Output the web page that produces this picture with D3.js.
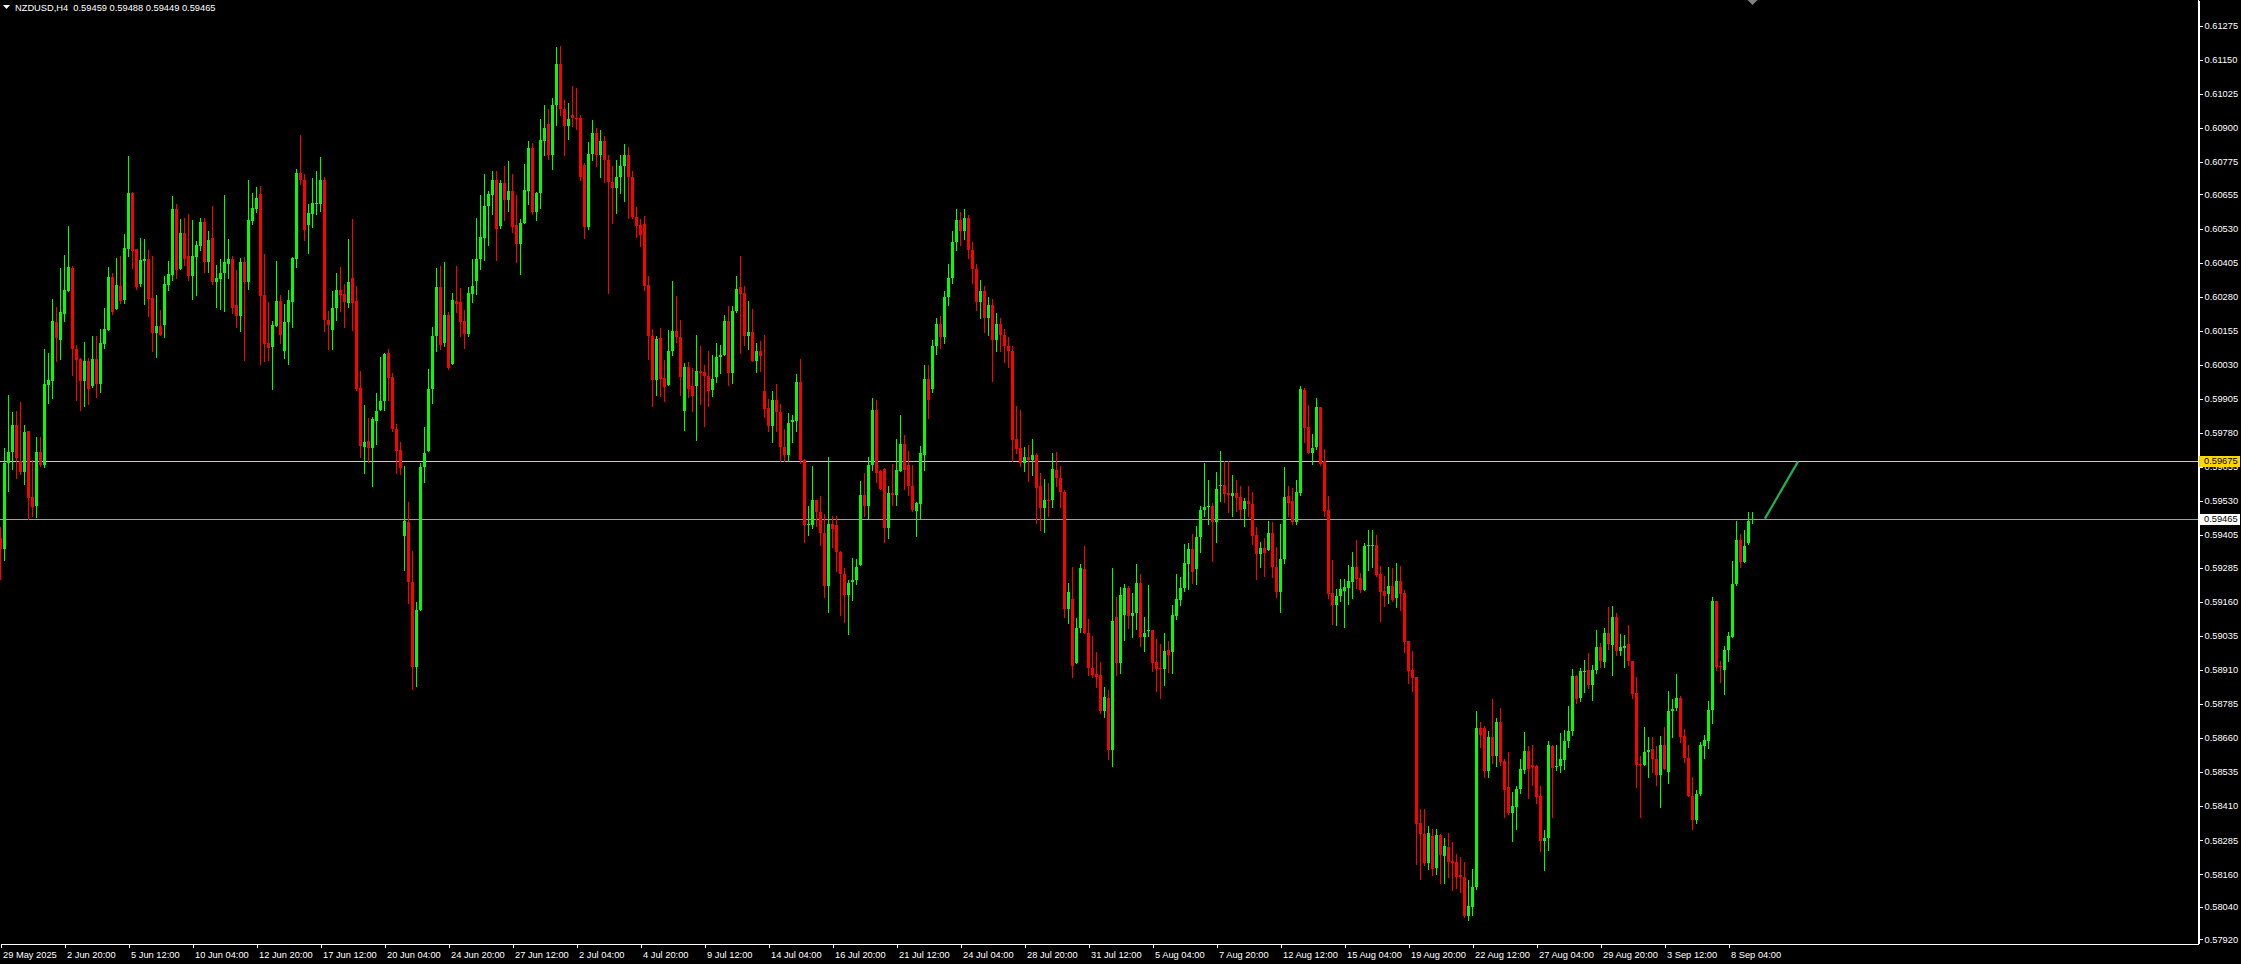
<!DOCTYPE html>
<html><head><meta charset="utf-8">
<script src="https://cdn.jsdelivr.net/npm/d3@7"></script>
<style>
html,body{margin:0;padding:0;background:#000;overflow:hidden}
svg{display:block}
text{font-family:"Liberation Sans",Arial,sans-serif;font-size:9.3px}
</style></head><body>
<svg id="chart" width="2241" height="964"></svg>
<script>
// NZDUSD H4 candles, prices in points (price x 100000)
const symbolName = "NZDUSD,H4";
const lastBarOHLC = ["0.59459", "0.59488", "0.59449", "0.59465"];

const opens = [
59394,59353,59671,59709,59808,59676,59636,59786,59545,59512,
59709,59661,59956,59970,60187,60122,60218,60301,60386,60088,
60051,59969,60043,59952,60051,59958,60106,60157,60353,60235,
60319,60267,60456,60661,60455,60327,60411,60418,60276,60148,
60172,60176,60323,60360,60602,60381,60515,60429,60356,60426,
60466,60554,60407,60496,60334,60345,60367,60400,60418,60250,
60209,60407,60334,60558,60602,60657,60286,60110,60095,60172,
60265,60081,60187,60261,60418,60734,60709,60544,60584,60619,
60619,60709,60193,60159,60239,60305,60291,60257,60349,60265,
59946,59729,59749,59723,59825,59865,59895,60073,59985,59794,
59718,59403,59452,59234,58920,59129,59655,59715,59941,60134,
60317,60109,60211,60033,60263,60260,60190,60144,60291,60338,
60419,60496,60613,60654,60709,60540,60697,60636,60668,60543,
60474,60551,60668,60827,60591,60661,60852,60914,60801,60984,
61134,60970,60905,60948,60935,60936,60762,60534,60804,60880,
60800,60850,60780,60700,60680,60720,60760,60800,60720,60572,
60544,60548,60324,60137,59975,60129,59981,59954,60079,60155,
60133,59859,60020,59951,59951,60008,60002,59990,59936,59984,
60059,60064,60189,59999,60226,60315,60293,60134,60151,60045,
60081,59935,59871,59806,59902,59857,59729,59700,59820,59822,
59968,59681,59440,59440,59534,59488,59414,59216,59446,59443,
59341,59261,59185,59232,59241,59296,59553,59510,59663,59865,
59638,59647,59432,59558,59550,59641,59739,59662,59585,59494,
59519,59699,59978,59941,60100,60180,60130,60280,60350,60480,
60560,60520,60570,60450,60380,60260,60300,60200,60250,60120,
60180,60140,60100,60080,59756,59723,59668,59690,59680,59699,
59583,59505,59534,59534,59644,59613,59563,59132,59169,58934,
59062,59279,59044,58915,58895,58891,58760,58805,58616,59103,
58936,59111,59209,59108,59117,59228,59032,59052,59056,58937,
58918,58913,58983,58975,59109,59168,59211,59299,59353,59279,
59397,59496,59507,59510,59454,59585,59589,59559,59549,59559,
59543,59500,59528,59519,59404,59336,59358,59351,59412,59287,
59195,59316,59548,59528,59454,59559,59936,59801,59707,59729,
59873,59677,59497,59191,59149,59182,59200,59211,59233,59286,
59246,59204,59366,59366,59368,59261,59198,59189,59217,59172,
59235,59191,59014,58909,58883,58348,58306,58201,58299,58184,
58303,58227,58260,58208,58204,58155,58151,58007,58041,58111,
58698,58698,58537,58665,58592,58720,58577,58478,58386,58408,
58473,58543,58613,58561,58555,58445,58283,58292,58631,58555,
58555,58580,58647,58684,58886,58808,58904,58910,58855,58910,
58992,58937,59045,59002,59102,58980,58990,59004,58941,58824,
58565,58561,58608,58619,58582,58522,58635,58533,58759,58769,
58808,58668,58588,58445,58357,58455,58632,58649,58763,59163,
58925,58910,58981,59032,59225,59387,59304,59375,59459];

const highs = [
59435,59723,59920,59857,59860,59894,59808,59786,59679,59765,
59765,60088,60073,60271,60242,60386,60433,60539,60392,60103,
60055,60114,60055,60136,60136,60161,60239,60390,60367,60422,
60429,60511,60797,60664,60455,60496,60492,60452,60429,60286,
60231,60356,60411,60651,60621,60565,60569,60584,60562,60485,
60569,60569,60521,60614,60396,60418,60653,60492,60429,60379,
60422,60426,60709,60661,60683,60687,60437,60261,60191,60411,
60286,60254,60304,60426,60750,60874,60731,60619,60716,60742,
60793,60720,60228,60301,60367,60390,60326,60492,60565,60319,
60006,59882,59834,59839,59926,60059,60073,60087,60000,59812,
59747,59659,59527,59347,59158,59671,59802,60014,60169,60385,
60392,60408,60222,60294,60392,60312,60231,60317,60419,60570,
60654,60731,60668,60742,60742,60709,60761,60779,60731,60654,
60565,60768,60852,60845,60664,60933,60984,60970,61009,61195,
61199,61002,60991,61054,61047,60945,60770,60848,60930,60900,
60890,60870,60800,60760,60780,60800,60840,60830,60740,60609,
60566,60577,60357,60161,60134,60166,60048,60159,60339,60283,
60195,60036,60041,60019,60140,60100,60030,60081,60067,60110,
60104,60214,60247,60247,60357,60430,60320,60265,60236,60110,
60118,60140,59904,59935,59960,59887,59795,59853,59846,59997,
60052,59684,59510,59657,59534,59549,59483,59693,59476,59476,
59345,59283,59240,59320,59318,59604,59632,59691,59908,59902,
59644,59652,59583,59666,59758,59846,59772,59714,59662,59525,
59732,60030,60030,60120,60200,60210,60300,60400,60520,60600,
60590,60600,60580,60480,60400,60340,60320,60280,60270,60220,
60200,60160,60130,60100,59879,59864,59729,59736,59758,59705,
59634,59611,59595,59705,59711,59658,59570,59228,59286,59099,
59297,59365,59095,59035,58975,58937,58846,58836,59283,59176,
59213,59225,59218,59193,59299,59262,59105,59221,59056,59022,
59005,59044,59016,59148,59261,59250,59372,59376,59408,59438,
59513,59670,59607,59523,59635,59713,59677,59677,59624,59607,
59585,59541,59585,59562,59434,59381,59395,59456,59451,59360,
59444,59654,59585,59578,59607,59952,59945,59883,59775,59909,
59873,59720,59549,59313,59208,59244,59244,59296,59342,59385,
59266,59375,59423,59423,59405,59290,59254,59287,59283,59303,
59290,59202,59014,58979,58883,58398,58398,58335,58326,58326,
58309,58293,58310,58277,58234,58223,58204,58139,58179,58757,
58720,58702,58687,58803,58734,58769,58582,58609,58460,58482,
58584,58680,58631,58635,58561,58485,58322,58647,58635,58635,
58677,58690,58778,58914,58892,58916,58947,58971,58928,59057,
59008,59063,59139,59143,59118,59041,59039,59075,58941,58883,
58592,58700,58663,58662,58631,58668,58699,58833,58803,58895,
58812,58693,58635,58518,58469,58644,58671,58794,59176,59163,
58943,58999,59048,59308,59455,59409,59424,59488,59488];

const lows = [
59244,59312,59566,59648,59614,59629,59592,59462,59473,59470,
59657,59655,59890,59907,60045,60051,60191,60301,59993,59901,
59865,59879,59886,59948,59911,59930,60092,60157,60218,60235,
60257,60257,60429,60386,60308,60319,60254,60209,60081,60058,
60140,60133,60304,60342,60349,60381,60396,60342,60271,60286,
60452,60371,60371,60327,60242,60235,60228,60349,60221,60168,
60155,60047,60308,60547,60591,60032,60043,60047,59941,60172,
60110,60055,60032,60168,60390,60692,60487,60440,60534,60584,
60593,60152,60087,60087,60193,60228,60169,60243,60159,59937,
59691,59634,59673,59583,59738,59865,59865,59902,59788,59634,
59627,59277,59154,58840,58850,59129,59600,59715,59888,60082,
60087,60099,60014,60033,60225,60137,60092,60137,60260,60288,
60383,60415,60471,60584,60415,60533,60562,60596,60516,60408,
60363,60551,60619,60584,60562,60607,60801,60787,60749,60911,
60945,60801,60860,60907,60897,60710,60494,60527,60780,60760,
60720,60700,60293,60550,60587,60660,60630,60569,60570,60499,
60465,60303,60052,59880,59920,59917,59895,59954,60064,60112,
59920,59789,59910,59861,59755,59887,59806,59877,59914,59965,
59999,60064,59957,59963,60222,60073,60104,60088,60045,60002,
60008,59837,59785,59745,59788,59678,59675,59678,59746,59785,
59669,59381,59406,59430,59439,59367,59179,59121,59359,59271,
59112,59087,59042,59167,59226,59296,59473,59467,59642,59601,
59574,59381,59395,59515,59515,59641,59574,59552,59493,59403,
59469,59644,59836,59930,60070,60090,60110,60250,60330,60450,
60470,60490,60420,60330,60230,60200,60150,60140,59972,60080,
60080,60040,60020,59678,59705,59660,59640,59603,59625,59448,
59423,59416,59476,59509,59586,59509,59102,59081,58882,58934,
59050,59044,58891,58885,58848,58753,58735,58581,58558,58891,
58900,59019,59065,59032,59059,58997,58979,59034,58906,58832,
58808,58854,58903,58899,59096,59149,59200,59207,59227,59224,
59342,59473,59447,59309,59379,59528,59526,59489,59476,59493,
59467,59437,59476,59372,59244,59287,59254,59351,59250,59176,
59123,59303,59476,59444,59447,59552,59745,59707,59667,59720,
59663,59473,59172,59077,59076,59161,59067,59152,59172,59211,
59194,59204,59277,59287,59253,59089,59145,59156,59161,59139,
59130,58975,58863,58831,58197,58142,58195,58179,58155,58162,
58129,58129,58151,58103,58109,58093,58004,57992,58010,58106,
58628,58518,58518,58567,58557,58561,58371,58381,58280,58326,
58457,58531,58438,58488,58420,58243,58176,58249,58371,58543,
58533,58545,58628,58669,58788,58797,58830,58845,58800,58900,
58919,58922,58987,58892,58963,58963,58922,58928,58808,58478,
58371,58561,58518,58533,58488,58408,58545,58494,58665,58761,
58644,58570,58448,58325,58349,58451,58586,58622,58714,58910,
58867,58821,58944,59032,59222,59287,59304,59371,59449];

const closes = [
59353,59671,59709,59808,59689,59636,59784,59542,59509,59709,
59661,59959,59974,60191,60127,60224,60304,60390,60088,60049,
59969,60043,59941,60051,59958,60110,60161,60353,60224,60323,
60265,60459,60661,60448,60316,60415,60418,60271,60148,60172,
60140,60327,60364,60602,60379,60515,60418,60356,60429,60470,
60554,60407,60489,60334,60349,60367,60407,60418,60239,60209,
60407,60334,60562,60606,60642,60282,60106,60092,60176,60265,
60140,60187,60267,60422,60735,60709,60523,60588,60624,60624,
60709,60193,60175,60239,60305,60287,60260,60335,60257,59941,
59733,59747,59723,59832,59860,59898,60071,59983,59794,59715,
59652,59456,59234,58920,59129,59655,59707,59941,60134,60317,
60103,60211,60019,60269,60253,60187,60144,60294,60319,60419,
60499,60613,60658,60709,60530,60697,60636,60668,60537,60474,
60551,60672,60827,60591,60661,60856,60900,60799,60984,61134,
60967,60905,60933,60935,60931,60721,60534,60804,60880,60800,
60850,60780,60700,60680,60720,60760,60800,60720,60572,60541,
60507,60320,60134,59975,60126,59979,59948,60081,60155,60130,
59984,60023,59942,59914,60008,59999,59987,59932,59979,60059,
60067,60192,59999,60228,60309,60291,60134,60151,60045,60081,
60063,59868,59806,59902,59855,59727,59700,59816,59826,59968,
59679,59440,59446,59534,59488,59414,59216,59446,59428,59341,
59261,59185,59228,59241,59287,59553,59510,59663,59865,59634,
59574,59432,59558,59552,59644,59739,59644,59583,59497,59521,
59705,59978,59901,60100,60180,60130,60280,60350,60480,60560,
60520,60570,60450,60380,60260,60300,60200,60250,60120,60180,
60140,60100,60080,59754,59721,59668,59690,59680,59699,59579,
59505,59534,59528,59647,59613,59561,59135,59196,58925,59062,
59283,59044,58915,58891,58882,58760,58809,58616,59089,58936,
59185,59209,59108,59117,59228,59032,59046,59056,58936,58913,
58912,58979,58964,59111,59170,59211,59303,59353,59270,59397,
59497,59507,59510,59454,59574,59589,59556,59552,59559,59539,
59496,59530,59519,59401,59336,59358,59339,59414,59286,59195,
59318,59543,59523,59454,59561,59941,59799,59707,59725,59873,
59667,59493,59189,59149,59182,59207,59214,59237,59287,59244,
59204,59366,59368,59368,59257,59194,59182,59217,59165,59235,
59189,59012,58907,58880,58345,58306,58201,58310,58177,58303,
58230,58263,58204,58201,58149,58149,58007,58043,58111,58698,
58669,58537,58665,58592,58717,58570,58467,58384,58411,58473,
58546,58613,58546,58553,58442,58283,58292,58635,58549,58557,
58582,58647,58684,58886,58804,58906,58906,58855,58910,58992,
58943,59045,59005,59102,58980,58993,58996,58941,58822,58561,
58561,58608,58616,58582,58524,58635,58545,58759,58767,58806,
58665,58588,58448,58357,58455,58635,58653,58763,59163,58922,
58922,58983,59035,59225,59387,59304,59365,59457,59465];

const timeLabels = ["29 May 2025","2 Jun 20:00","5 Jun 12:00","10 Jun 04:00","12 Jun 20:00",
"17 Jun 12:00","20 Jun 04:00","24 Jun 20:00","27 Jun 12:00","2 Jul 04:00","4 Jul 20:00",
"9 Jul 12:00","14 Jul 04:00","16 Jul 20:00","21 Jul 12:00","24 Jul 04:00","28 Jul 20:00",
"31 Jul 12:00","5 Aug 04:00","7 Aug 20:00","12 Aug 12:00","15 Aug 04:00","19 Aug 20:00",
"22 Aug 12:00","27 Aug 04:00","29 Aug 20:00","3 Sep 12:00","8 Sep 04:00"];
const timeLabelBars = [0,16,32,48,64,80,96,112,128,144,160,176,192,208,224,240,256,272,288,304,320,336,352,368,384,400,416,432];

const priceTicks = [0.61275,0.61150,0.61025,0.60900,0.60775,0.60655,0.60530,0.60405,0.60280,
0.60155,0.60030,0.59905,0.59780,0.59655,0.59530,0.59405,0.59285,0.59160,0.59035,0.58910,
0.58785,0.58660,0.58535,0.58410,0.58285,0.58160,0.58040,0.57920];

const levelLine = 0.59675;   // yellow horizontal line
const bidLine = 0.59465;     // grey bid line
const trendStart = [441.1, 0.59465];
const trendEnd = [449.4, 0.59675];

const W = 2241, H = 964, plotRight = 2198, plotBottom = 943;
const svg = d3.select("#chart");
svg.append("rect").attr("width", W).attr("height", H).attr("fill", "#000");

const x = d3.scaleLinear().domain([0, 549.5]).range([0.5, plotRight + 0.5]);
const y = d3.scaleLinear().domain([0.57907, 0.61369]).range([plotBottom, 0]);

const bars = opens.map((o, i) => ({i, o: o / 1e5, h: highs[i] / 1e5, l: lows[i] / 1e5, c: closes[i] / 1e5}));
const col = d => d.c >= d.o ? "#00ff00" : "#ff0000";
const ry = v => Math.round(y(v));

// level lines (behind candles)
const lines = svg.append("g").attr("shape-rendering", "crispEdges");
lines.append("line").attr("x1", 0).attr("x2", plotRight).attr("y1", ry(levelLine) + 0.5).attr("y2", ry(levelLine) + 0.5)
  .attr("stroke", "#ffd700").attr("stroke-width", 1);
lines.append("line").attr("x1", 0).attr("x2", plotRight).attr("y1", ry(bidLine) + 0.5).attr("y2", ry(bidLine) + 0.5)
  .attr("stroke", "#a0a0a0").attr("stroke-width", 1);

const cg = svg.append("g").attr("shape-rendering", "crispEdges");
cg.selectAll("line").data(bars).join("line")
  .attr("x1", d => x(d.i)).attr("x2", d => x(d.i))
  .attr("y1", d => ry(d.h)).attr("y2", d => ry(d.l) + 1)
  .attr("stroke", col).attr("stroke-width", 1);
cg.selectAll("rect").data(bars).join("rect")
  .attr("x", d => x(d.i) - 1.5).attr("width", 3)
  .attr("y", d => ry(Math.max(d.o, d.c)))
  .attr("height", d => Math.max(1, ry(Math.min(d.o, d.c)) - ry(Math.max(d.o, d.c))))
  .attr("fill", col);

// trend line
svg.append("line")
  .attr("x1", x(trendStart[0])).attr("y1", y(trendStart[1]))
  .attr("x2", x(trendEnd[0])).attr("y2", y(trendEnd[1]))
  .attr("stroke", "#20b050").attr("stroke-width", 2.2);

// axes
const yAxis = d3.axisRight(y).tickValues(priceTicks).tickFormat(d3.format(".5f")).tickSize(4).tickSizeOuter(0).tickPadding(2);
const ya = svg.append("g").attr("transform", `translate(${plotRight + 0.5},0)`).call(yAxis);
const xAxis = d3.axisBottom(x).tickValues(timeLabelBars).tickFormat((d, i) => timeLabels[i]).tickSize(4).tickSizeOuter(0).tickPadding(2);
const xa = svg.append("g").attr("transform", `translate(0,${plotBottom + 0.5})`).call(xAxis);
[ya, xa].forEach(a => {
  a.attr("font-family", null).attr("font-size", null).attr("shape-rendering", "crispEdges");
  a.select(".domain").attr("stroke", "#fff");
  a.selectAll(".tick line").attr("stroke", "#fff");
  a.selectAll(".tick text").attr("fill", "#fff");
});
xa.selectAll(".tick text").attr("text-anchor", "start").attr("x", 2).attr("dy", "0.9em");
svg.append("line").attr("x1", plotRight + 0.5).attr("x2", plotRight + 0.5).attr("y1", 0).attr("y2", plotBottom + 1)
  .attr("stroke", "#fff").attr("shape-rendering", "crispEdges");

// price labels on the scale
function priceTag(v, bg) {
  const yy = ry(v);
  svg.append("rect").attr("x", plotRight + 1).attr("y", yy - 5).attr("width", W - plotRight - 2).attr("height", 11).attr("fill", bg);
  svg.append("text").attr("x", plotRight + 6).attr("y", yy).attr("dy", "0.35em").attr("fill", "#000").text(d3.format(".5f")(v));
}
priceTag(levelLine, "#ffd700");
priceTag(bidLine, "#ffffff");

// title
svg.append("path").attr("d", "M3,5 L10,5 L6.5,9 Z").attr("fill", "#fff");
svg.append("text").attr("x", 15).attr("y", 11).attr("fill", "#fff").style("white-space", "pre")
  .text(symbolName + "  " + lastBarOHLC.join(" "));
// shift marker at the top
svg.append("path").attr("d", `M${x(438) - 5},0 L${x(438) + 5},0 L${x(438)},5 Z`).attr("fill", "#808080");
</script>
</body></html>
